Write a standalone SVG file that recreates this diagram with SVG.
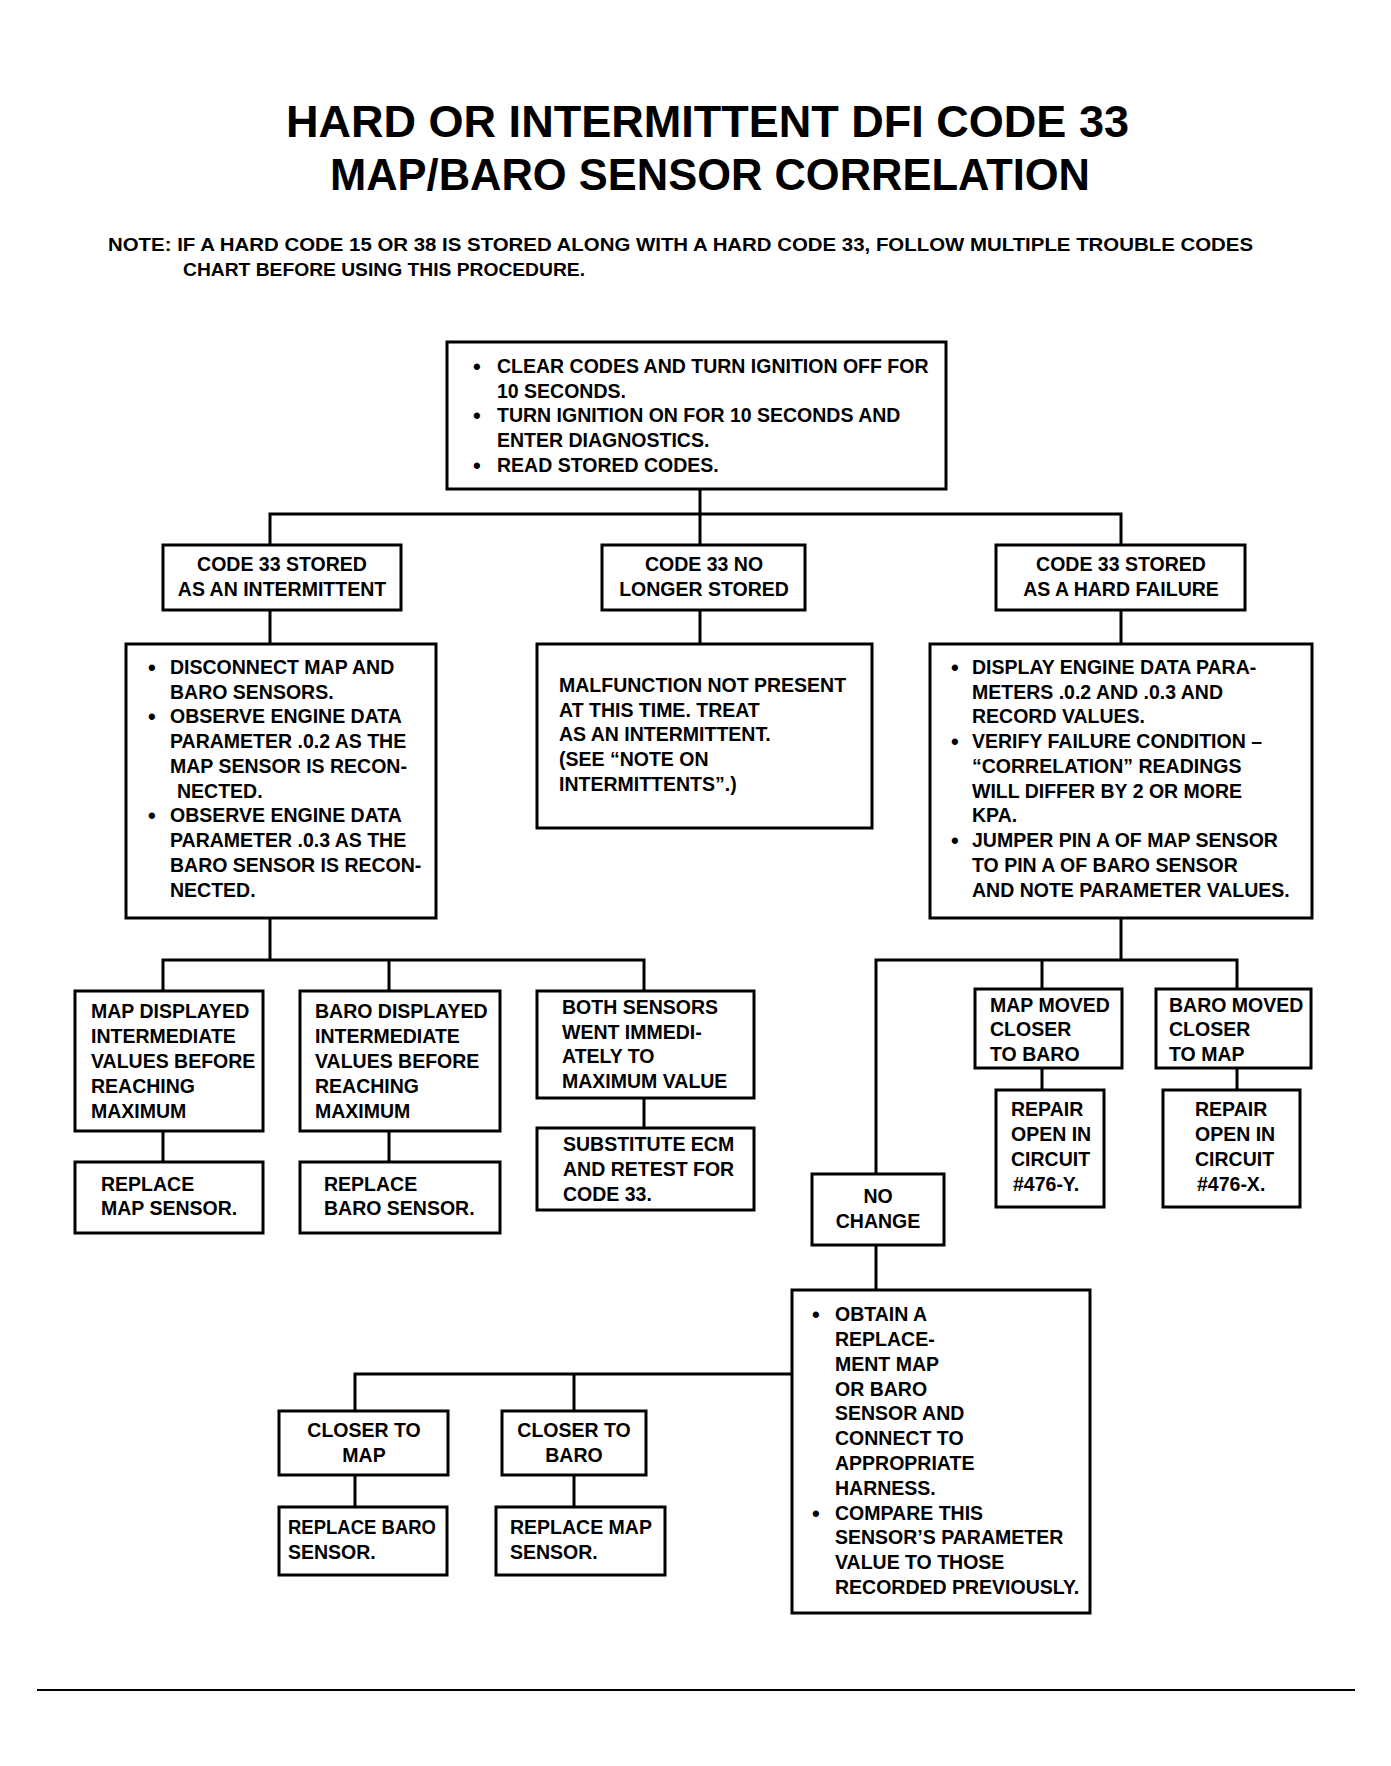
<svg xmlns="http://www.w3.org/2000/svg" width="1391" height="1766" viewBox="0 0 1391 1766">
<style>
.bg{fill:#ffffff}
.box{fill:#ffffff;stroke:#000;stroke-width:3}
.con{fill:none;stroke:#000;stroke-width:3;stroke-linecap:square}
.t{font-family:"Liberation Sans",Arial,Helvetica,sans-serif;font-weight:bold;font-size:19.5px;fill:#000}
.b{font-size:22px}
.c{text-anchor:middle}
.title{font-family:"Liberation Sans",Arial,Helvetica,sans-serif;font-weight:bold;font-size:45px;fill:#000}
.note{font-family:"Liberation Sans",Arial,Helvetica,sans-serif;font-weight:bold;font-size:18px;fill:#000}
</style>
<rect class="bg" x="0" y="0" width="1391" height="1766"/>
<g id="title">
<text class="title" x="286" y="137" textLength="843" lengthAdjust="spacingAndGlyphs">HARD OR INTERMITTENT DFI CODE 33</text>
<text class="title" x="330" y="190" textLength="760" lengthAdjust="spacingAndGlyphs">MAP/BARO SENSOR CORRELATION</text>
<text class="note" x="108" y="251" textLength="1145" lengthAdjust="spacingAndGlyphs">NOTE:  IF A HARD CODE 15 OR 38 IS STORED ALONG WITH A HARD CODE 33, FOLLOW MULTIPLE TROUBLE CODES</text>
<text class="note" x="183" y="276" textLength="402" lengthAdjust="spacingAndGlyphs">CHART BEFORE  USING THIS PROCEDURE.</text>
</g>
<g id="connectors">
<path class="con" d="M700,489 V514 M270,545 V514 H1121 V545 M700,514 V545"/>
<path class="con" d="M270,610 V644 M700,610 V644 M1121,610 V644"/>
<path class="con" d="M270,918 V960 M163,991 V960 H644 V991 M389,960 V991"/>
<path class="con" d="M163,1131 V1162 M389,1131 V1162 M644,1098 V1128"/>
<path class="con" d="M1121,918 V960 M876,1174 V960 H1237 V989 M1042,960 V989"/>
<path class="con" d="M1042,1068 V1090 M1237,1068 V1090"/>
<path class="con" d="M876,1245 V1290"/>
<path class="con" d="M792,1374 H355 V1411 M574,1374 V1411"/>
<path class="con" d="M355,1475 V1507 M574,1475 V1507"/>
<path fill="none" stroke="#000" stroke-width="2" d="M37,1690 H1355"/>
</g>
<g id="start">
<rect class="box" x="447" y="342" width="499" height="147"/>
<text class="t b" x="473" y="374">•</text><text class="t" x="497" y="373">CLEAR CODES AND TURN IGNITION OFF FOR</text>
<text class="t" x="497" y="398">10 SECONDS.</text>
<text class="t b" x="473" y="423">•</text><text class="t" x="497" y="422">TURN IGNITION ON FOR 10 SECONDS AND</text>
<text class="t" x="497" y="447">ENTER DIAGNOSTICS.</text>
<text class="t b" x="473" y="473">•</text><text class="t" x="497" y="472">READ STORED CODES.</text>
</g>
<g id="intermittent">
<rect class="box" x="163" y="545" width="238" height="65"/>
<text class="t c" x="282" y="571">CODE 33 STORED</text>
<text class="t c" x="282" y="596">AS AN INTERMITTENT</text>
</g>
<g id="no-longer">
<rect class="box" x="602" y="545" width="203" height="65"/>
<text class="t c" x="704" y="571">CODE 33 NO</text>
<text class="t c" x="704" y="596">LONGER STORED</text>
</g>
<g id="hard">
<rect class="box" x="996" y="545" width="249" height="65"/>
<text class="t c" x="1121" y="571">CODE 33 STORED</text>
<text class="t c" x="1121" y="596">AS A HARD FAILURE</text>
</g>
<g id="disconnect">
<rect class="box" x="126" y="644" width="310" height="274"/>
<text class="t b" x="148" y="675">•</text><text class="t" x="170" y="674">DISCONNECT MAP AND</text>
<text class="t" x="170" y="699">BARO SENSORS.</text>
<text class="t b" x="148" y="724">•</text><text class="t" x="170" y="723">OBSERVE ENGINE DATA</text>
<text class="t" x="170" y="748">PARAMETER .0.2 AS THE</text>
<text class="t" x="170" y="773">MAP SENSOR IS RECON-</text>
<text class="t" x="177" y="798">NECTED.</text>
<text class="t b" x="148" y="823">•</text><text class="t" x="170" y="822">OBSERVE ENGINE DATA</text>
<text class="t" x="170" y="847">PARAMETER .0.3 AS THE</text>
<text class="t" x="170" y="872">BARO SENSOR IS RECON-</text>
<text class="t" x="170" y="897">NECTED.</text>
</g>
<g id="malfunction">
<rect class="box" x="537" y="644" width="335" height="184"/>
<text class="t" x="559" y="692">MALFUNCTION NOT PRESENT</text>
<text class="t" x="559" y="717">AT THIS TIME. TREAT</text>
<text class="t" x="559" y="741">AS AN INTERMITTENT.</text>
<text class="t" x="559" y="766">(SEE “NOTE ON</text>
<text class="t" x="559" y="791">INTERMITTENTS”.)</text>
</g>
<g id="display">
<rect class="box" x="930" y="644" width="382" height="274"/>
<text class="t b" x="951" y="675">•</text><text class="t" x="972" y="674">DISPLAY ENGINE DATA PARA-</text>
<text class="t" x="972" y="699">METERS .0.2 AND .0.3 AND</text>
<text class="t" x="972" y="723">RECORD VALUES.</text>
<text class="t b" x="951" y="749">•</text><text class="t" x="972" y="748">VERIFY FAILURE CONDITION –</text>
<text class="t" x="972" y="773">“CORRELATION” READINGS</text>
<text class="t" x="972" y="798">WILL DIFFER BY 2 OR MORE</text>
<text class="t" x="972" y="822">KPA.</text>
<text class="t b" x="951" y="848">•</text><text class="t" x="972" y="847">JUMPER PIN A OF MAP SENSOR</text>
<text class="t" x="972" y="872">TO PIN A OF BARO SENSOR</text>
<text class="t" x="972" y="897">AND NOTE PARAMETER VALUES.</text>
</g>
<g id="map-displayed">
<rect class="box" x="75" y="991" width="188" height="140"/>
<text class="t" x="91" y="1018">MAP DISPLAYED</text>
<text class="t" x="91" y="1043">INTERMEDIATE</text>
<text class="t" x="91" y="1068">VALUES BEFORE</text>
<text class="t" x="91" y="1093">REACHING</text>
<text class="t" x="91" y="1118">MAXIMUM</text>
</g>
<g id="baro-displayed">
<rect class="box" x="300" y="991" width="200" height="140"/>
<text class="t" x="315" y="1018">BARO DISPLAYED</text>
<text class="t" x="315" y="1043">INTERMEDIATE</text>
<text class="t" x="315" y="1068">VALUES BEFORE</text>
<text class="t" x="315" y="1093">REACHING</text>
<text class="t" x="315" y="1118">MAXIMUM</text>
</g>
<g id="both-sensors">
<rect class="box" x="537" y="991" width="217" height="107"/>
<text class="t" x="562" y="1014">BOTH SENSORS</text>
<text class="t" x="562" y="1039">WENT IMMEDI-</text>
<text class="t" x="562" y="1063">ATELY TO</text>
<text class="t" x="562" y="1088">MAXIMUM VALUE</text>
</g>
<g id="replace-map">
<rect class="box" x="75" y="1162" width="188" height="71"/>
<text class="t" x="101" y="1191">REPLACE</text>
<text class="t" x="101" y="1215">MAP SENSOR.</text>
</g>
<g id="replace-baro">
<rect class="box" x="300" y="1162" width="200" height="71"/>
<text class="t" x="324" y="1191">REPLACE</text>
<text class="t" x="324" y="1215">BARO SENSOR.</text>
</g>
<g id="substitute-ecm">
<rect class="box" x="537" y="1128" width="217" height="82"/>
<text class="t" x="563" y="1151">SUBSTITUTE ECM</text>
<text class="t" x="563" y="1176">AND RETEST FOR</text>
<text class="t" x="563" y="1201">CODE 33.</text>
</g>
<g id="map-moved">
<rect class="box" x="975" y="989" width="147" height="79"/>
<text class="t" x="990" y="1012">MAP MOVED</text>
<text class="t" x="990" y="1036">CLOSER</text>
<text class="t" x="990" y="1061">TO BARO</text>
</g>
<g id="baro-moved">
<rect class="box" x="1156" y="989" width="155" height="79"/>
<text class="t" x="1169" y="1012">BARO MOVED</text>
<text class="t" x="1169" y="1036">CLOSER</text>
<text class="t" x="1169" y="1061">TO MAP</text>
</g>
<g id="repair-y">
<rect class="box" x="996" y="1090" width="108" height="117"/>
<text class="t" x="1011" y="1116">REPAIR</text>
<text class="t" x="1011" y="1141">OPEN IN</text>
<text class="t" x="1011" y="1166">CIRCUIT</text>
<text class="t" x="1013" y="1191">#476-Y.</text>
</g>
<g id="repair-x">
<rect class="box" x="1163" y="1090" width="137" height="117"/>
<text class="t" x="1195" y="1116">REPAIR</text>
<text class="t" x="1195" y="1141">OPEN IN</text>
<text class="t" x="1195" y="1166">CIRCUIT</text>
<text class="t" x="1197" y="1191">#476-X.</text>
</g>
<g id="no-change">
<rect class="box" x="812" y="1174" width="132" height="71"/>
<text class="t c" x="878" y="1203">NO</text>
<text class="t c" x="878" y="1228">CHANGE</text>
</g>
<g id="obtain">
<rect class="box" x="792" y="1290" width="298" height="323"/>
<text class="t b" x="812" y="1322">•</text><text class="t" x="835" y="1321">OBTAIN A</text>
<text class="t" x="835" y="1346">REPLACE-</text>
<text class="t" x="835" y="1371">MENT MAP</text>
<text class="t" x="835" y="1396">OR BARO</text>
<text class="t" x="835" y="1420">SENSOR AND</text>
<text class="t" x="835" y="1445">CONNECT  TO</text>
<text class="t" x="835" y="1470">APPROPRIATE</text>
<text class="t" x="835" y="1495">HARNESS.</text>
<text class="t b" x="812" y="1521">•</text><text class="t" x="835" y="1520">COMPARE THIS</text>
<text class="t" x="835" y="1544">SENSOR’S PARAMETER</text>
<text class="t" x="835" y="1569">VALUE TO THOSE</text>
<text class="t" x="835" y="1594">RECORDED PREVIOUSLY.</text>
</g>
<g id="closer-map">
<rect class="box" x="279" y="1411" width="169" height="64"/>
<text class="t c" x="364" y="1437">CLOSER TO</text>
<text class="t c" x="364" y="1462">MAP</text>
</g>
<g id="closer-baro">
<rect class="box" x="502" y="1411" width="144" height="64"/>
<text class="t c" x="574" y="1437">CLOSER TO</text>
<text class="t c" x="574" y="1462">BARO</text>
</g>
<g id="replace-baro-2">
<rect class="box" x="279" y="1507" width="168" height="68"/>
<text class="t" x="288" y="1534" textLength="148" lengthAdjust="spacingAndGlyphs">REPLACE BARO</text>
<text class="t" x="288" y="1559">SENSOR.</text>
</g>
<g id="replace-map-2">
<rect class="box" x="496" y="1507" width="169" height="68"/>
<text class="t" x="510" y="1534">REPLACE MAP</text>
<text class="t" x="510" y="1559">SENSOR.</text>
</g>
</svg>
